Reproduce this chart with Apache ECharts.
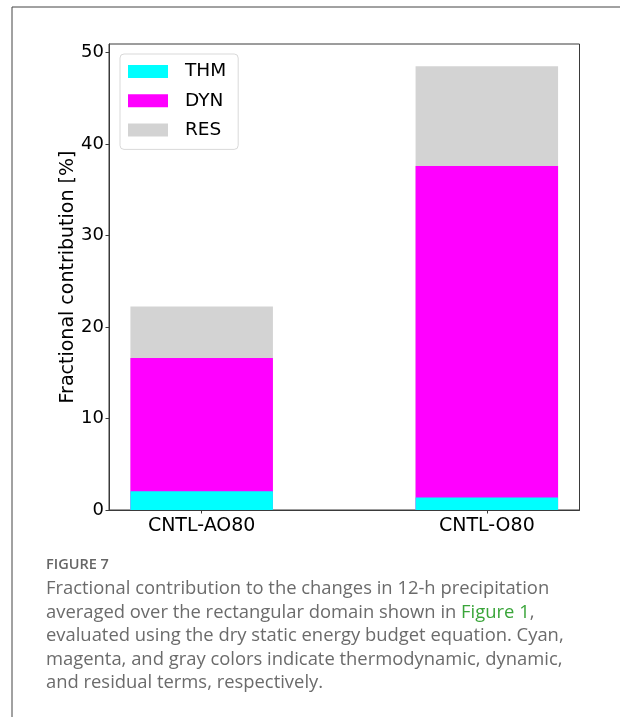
<!DOCTYPE html>
<html>
<head>
<meta charset="utf-8">
<script src="https://cdn.jsdelivr.net/npm/echarts@6/dist/echarts.min.js"></script>
<style>
  html, body { margin: 0; padding: 0; background: #fff; }
  #chart { width: 620px; height: 717px; }
</style>
</head>
<body>
<div id="chart"></div>
<script>
// Experiments on the x axis
const categories = ['CNTL-AO80', 'CNTL-O80'];
// Stacked contributions [%]
const thm = [2.05, 1.36];
const dyn = [14.57, 36.23];
const res = [5.62, 10.91];
const yTicks = [0, 10, 20, 30, 40, 50];

const seriesNames = ['THM', 'DYN', 'RES'];
const seriesColors = { THM: '#00ffff', DYN: '#ff00ff', RES: '#d3d3d3' };

// Cumulative tops of each segment; segments are drawn back to front so the
// lower segments sit over the taller ones.
const topThm = thm.slice();
const topDyn = thm.map((v, i) => v + dyn[i]);
const topRes = topDyn.map((v, i) => v + res[i]);
const layers = [
  { name: 'RES', tops: topRes },
  { name: 'DYN', tops: topDyn },
  { name: 'THM', tops: topThm }
];

const chart = echarts.init(document.getElementById('chart'), null, { renderer: 'canvas' });

const axisColor = '#3a3a3a';
const font = 'DejaVu Sans';

const option = {
  animation: false,
  backgroundColor: '#fff',
  grid: {
    left: 109, right: 40.5, top: 44, bottom: 207,
    show: true, borderColor: axisColor, borderWidth: 1, backgroundColor: 'transparent'
  },
  legend: {
    orient: 'vertical',
    left: 120, top: 54,
    data: seriesNames,
    icon: 'rect',
    itemWidth: 40, itemHeight: 13,
    itemGap: 10.2,
    padding: [8, 12, 10, 8],
    backgroundColor: '#fff',
    borderColor: '#d9d9d9', borderWidth: 1, borderRadius: 4,
    textStyle: { fontFamily: font, fontSize: 18.5, color: '#000', padding: [0, 0, 0, 12], lineHeight: 13 }
  },
  xAxis: {
    type: 'value',
    min: -0.325, max: 1.325,
    splitLine: { show: false },
    axisLine: { show: true, onZero: false, lineStyle: { color: axisColor } },
    axisTick: { show: true, length: 3.5, customValues: [0, 1], lineStyle: { color: axisColor } },
    axisLabel: {
      customValues: [0, 1],
      formatter: v => categories[Math.round(v)],
      fontFamily: font, fontSize: 19, color: '#000', margin: 7
    }
  },
  yAxis: {
    type: 'value',
    min: 0, max: 50.925,
    name: 'Fractional contribution [%]',
    nameLocation: 'middle',
    nameGap: 31,
    nameMoveOverlap: false,
    nameTextStyle: { fontFamily: font, fontSize: 19, color: '#000' },
    splitLine: { show: false },
    axisLine: { show: true, onZero: false, lineStyle: { color: axisColor } },
    axisTick: { show: true, length: 3.5, customValues: yTicks, lineStyle: { color: axisColor } },
    axisLabel: { customValues: yTicks, fontFamily: font, fontSize: 18, color: '#000', margin: 5 }
  },
  series: layers.map(layer => ({
    name: layer.name,
    type: 'bar',
    barWidth: 142.5,
    barGap: '-100%',
    itemStyle: { color: seriesColors[layer.name] },
    data: layer.tops.map((v, j) => [j, v])
  })),
  graphic: [
    { type: 'line', shape: { x1: 12, y1: 7, x2: 620, y2: 7 }, style: { stroke: '#444', lineWidth: 1 } },
    { type: 'line', shape: { x1: 12, y1: 7, x2: 12, y2: 717 }, style: { stroke: '#444', lineWidth: 1 } },
    {
      type: 'text', left: 46, top: 557,
      style: { text: 'FIGURE 7', font: '600 14.5px "Open Sans"', fill: '#666' }
    },
    {
      type: 'text', left: 46, top: 577,
      style: {
        text: 'Fractional contribution to the changes in 12-h precipitation\n' +
              'averaged over the rectangular domain shown in {g|Figure 1},\n' +
              'evaluated using the dry static energy budget equation. Cyan,\n' +
              'magenta, and gray colors indicate thermodynamic, dynamic,\n' +
              'and residual terms, respectively.',
        font: '18.4px "Open Sans"', fill: '#6b6b6b', lineHeight: 23.6,
        rich: { g: { font: '18.4px "Open Sans"', fill: '#3aa53a', lineHeight: 23.6 } }
      }
    }
  ]
};

chart.setOption(option);
</script>
</body>
</html>
